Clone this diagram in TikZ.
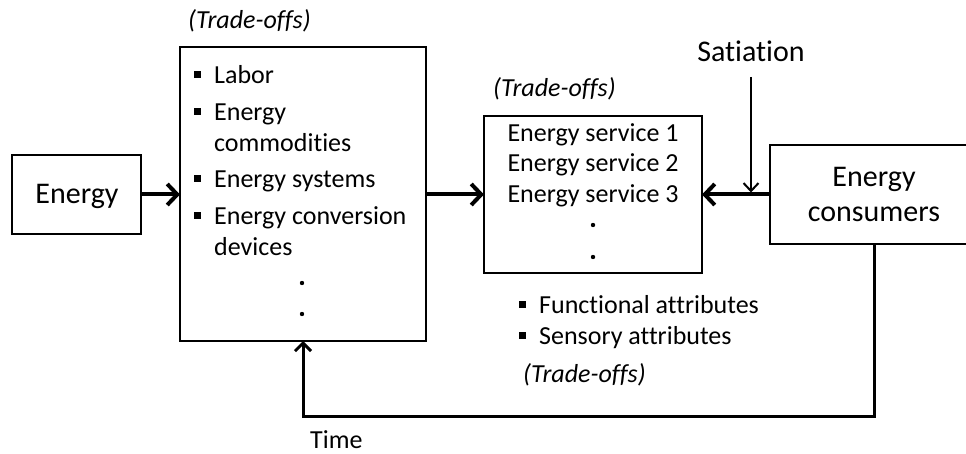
\documentclass[tikz,border=0pt]{standalone}
\usepackage{fontspec}
\setmainfont{Carlito}[Ligatures={NoCommon}]
\usetikzlibrary{arrows.meta}
\newcommand\mybul[1]{\makebox[20pt][l]{\rule[#1]{7pt}{7pt}}}
\begin{document}
\begin{tikzpicture}[x=1pt,y=-1pt,
  box/.style={draw, line width=2.5pt, inner sep=0pt, outer sep=0pt},
  txt/.style={inner sep=0pt, font=\fontsize{26}{30}\selectfont},
  big/.style={inner sep=0pt, font=\fontsize{30}{35}\selectfont},
  ital/.style={inner sep=0pt, font=\fontsize{26}{30}\selectfont\itshape},
  dot/.style={circle, fill, inner sep=0pt, minimum size=4.4pt},
  arr/.style={line width=4pt, -{Straight Barb[length=10pt,width=21pt]}},
  thinarr/.style={line width=2pt, -{Straight Barb[length=8pt,width=15pt]}},
  fbarr/.style={line width=3pt, -{Straight Barb[length=8pt,width=16pt]}}]
\useasboundingbox (0,0) rectangle (966,454);
\clip (0,0) rectangle (966,454);
% boxes
\node[box, minimum width=129pt, minimum height=79pt] (energy) at (76.5,194.5) {};
\node[box, minimum width=246pt, minimum height=294pt] (inputs) at (303,194) {};
\node[box, minimum width=218pt, minimum height=157pt] (svc) at (593,194.5) {};
\node[box, minimum width=208pt, minimum height=99pt] (cons) at (874,194.5) {};
% texts
\node[big, anchor=base] (energyT) at (77,204) {Energy};
\node[big, anchor=base] (consT1) at (874,187) {Energy};
\node[big, anchor=base] (consT2) at (874,222) {consumers};
\node[big, anchor=base] (sat) at (751,62) {Satiation};
\node[ital, anchor=base west] (to1) at (188,29) {(Trade-offs)};
\node[ital, anchor=base west] (to2) at (493,97) {(Trade-offs)};
\node[ital, anchor=base west] (to3) at (523,382) {(Trade-offs)};
\node[txt, anchor=base west, text depth=0pt] (time) at (310,448) {Time};
% input list
\node[txt, anchor=base west] (i1) at (194,84) {\mybul{6pt}Labor};
\node[txt, anchor=base west] (i2) at (194,121) {\mybul{6pt}Energy};
\node[txt, anchor=base west] (i2b) at (214,152) {commodities};
\node[txt, anchor=base west] (i3) at (194,188) {\mybul{6pt}Energy systems};
\node[txt, anchor=base west] (i4) at (194,225) {\mybul{6pt}Energy conversion};
\node[txt, anchor=base west] (i4b) at (214,256) {devices};
\node[dot] (d1) at (302,283) {};
\node[dot] (d2) at (302,314) {};
% services
\node[txt, anchor=base] (s1) at (593,142) {Energy service 1};
\node[txt, anchor=base] (s2) at (593,172) {Energy service 2};
\node[txt, anchor=base] (s3) at (593,203) {Energy service 3};
\node[dot] (sd1) at (593,225) {};
\node[dot] (sd2) at (593,257) {};
% attributes
\node[txt, anchor=base west] (a1) at (519,313) {\mybul{5pt}Functional attributes};
\node[txt, anchor=base west] (a2) at (519,344) {\mybul{5pt}Sensory attributes};
% connectors
\draw[arr] (energy.east) -- (inputs.west |- energy.east);
\draw[arr] (inputs.east |- svc.west) -- (svc.west);
\draw[arr] (cons.west) -- (svc.east);
\coordinate (satEnd) at (751,194.5);
\draw[thinarr, shorten >=2pt] ([yshift=-15pt]sat.base) -- (satEnd);
\coordinate (fb) at (874,416);
\draw[fbarr] (cons.south) -- (fb) -| (inputs.south);
\end{tikzpicture}
\end{document}
